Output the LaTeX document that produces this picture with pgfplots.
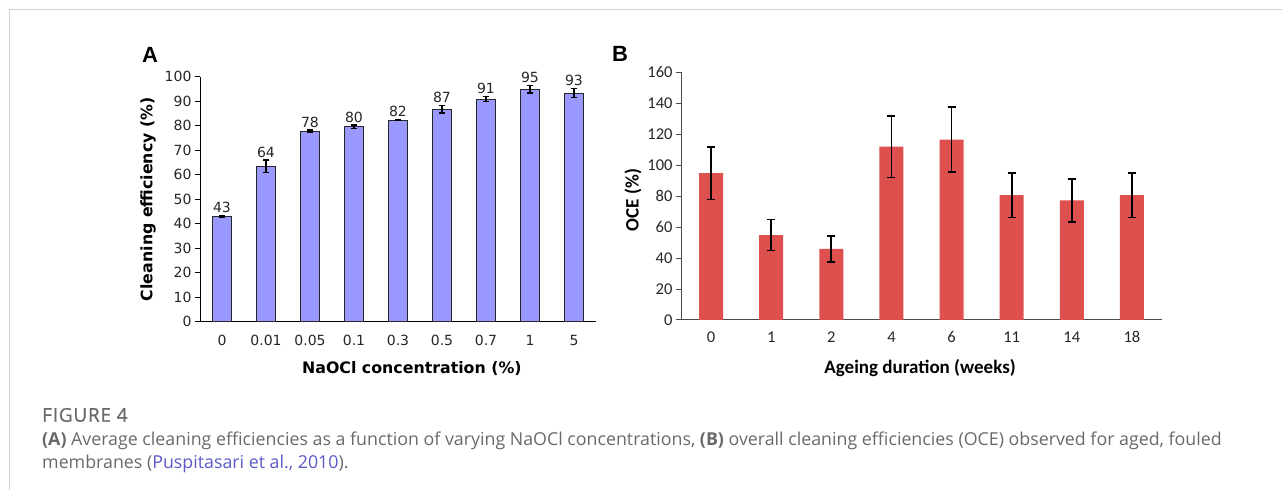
\documentclass[border=0pt]{standalone}
\usepackage{pgfplots}
\pgfplotsset{compat=1.18}
\usepackage{pgfplotstable}
\usepackage{fontspec}
\setmainfont{Open Sans}
\newfontfamily\verd{DejaVu Sans}
\newfontfamily\calib{Carlito}
\newfontfamily\arialf{Liberation Sans}
\newfontfamily\capf{Open Sans}
\newfontfamily\capfig[FakeBold=0.8,LetterSpace=4]{Open Sans}
\definecolor{barA}{RGB}{153,153,255}
\definecolor{barB}{RGB}{222,80,78}
\definecolor{capgray}{RGB}{105,105,105}
\definecolor{linkc}{RGB}{90,90,200}

\pgfplotstableread{
x y e lab
0 43.0 0.3 43
1 63.5 2.5 64
2 77.8 0.4 78
3 79.6 0.7 80
4 82.3 0.3 82
5 86.7 1.5 87
6 90.8 1.0 91
7 94.9 1.5 95
8 93.3 1.8 93
}\tabA

\pgfplotstableread{
x y e
0 94.8 17
1 54.9 10
2 45.9 8.5
3 112.0 20
4 116.5 21
5 80.7 14.5
6 77.3 14
7 80.7 14.5
}\tabB

\begin{document}
\begin{tikzpicture}[x=1pt,y=1pt]
\path[use as bounding box] (0,0) rectangle (1282,490);
\draw[black!18, line width=1.5pt] (9.5,0) -- (9.5,480.5) -- (1282,480.5);

% Panel labels
\node[anchor=base west, inner sep=0] at (142,427) {\arialf\bfseries\fontsize{22}{22}\selectfont A};
\node[anchor=base west, inner sep=0] at (612,428) {\arialf\bfseries\fontsize{22}{22}\selectfont B};

% Panel A
\begin{axis}[
  at={(200pt,168.3pt)}, anchor=south west,
  scale only axis, width=396pt, height=245pt,
  xmin=-0.5, xmax=8.5, ymin=0, ymax=100,
  axis x line*=bottom, axis y line*=left,
  axis line style={black, line width=0.9pt},
  tick align=outside,
  xtick={0,...,8},
  xticklabels={0,0.01,0.05,0.1,0.3,0.5,0.7,1,5},
  xtick style={draw=none},
  minor xtick={-0.5,0.5,...,8.5},
  minor tick length=5pt,
  major tick length=5pt,
  every tick/.style={black, line width=0.9pt},
  ytick={0,10,...,100},
  /pgf/number format/assume math mode=true,
  ticklabel style={font=\verd\fontsize{14}{14}\selectfont, text=black!85},
  xticklabel style={yshift=-5pt},
  xlabel={NaOCl concentration (\%)},
  ylabel={Cleaning efficiency (\%)},
  label style={font=\verd\bfseries\fontsize{15.8}{15.8}\selectfont},
  xlabel style={at={(axis description cs:0.535,-0.193)}, anchor=center},
  ylabel style={at={(axis description cs:-0.131,0.5)}, anchor=center},
  clip=false,
]
\addplot[ybar, bar width=19pt, fill=barA, draw=black!85, line width=0.8pt,
  error bars/.cd, y dir=both, y explicit,
  error bar style={black, line width=1.3pt},
  error mark options={rotate=90, mark size=3pt, line width=1.3pt, black}]
  table[x=x, y=y, y error=e] {\tabA};
\addplot[draw=none, mark=none, nodes near coords, point meta=explicit symbolic,
  every node near coord/.style={font=\verd\fontsize{14}{14}\selectfont, text=black!85, anchor=south, inner sep=2.5pt}]
  table[x=x, y expr=\thisrow{y}+\thisrow{e}, meta=lab] {\tabA};
\end{axis}

% Panel B
\begin{axis}[
  at={(681pt,170pt)}, anchor=south west,
  scale only axis, width=481pt, height=247.7pt,
  xmin=-0.5, xmax=7.5, ymin=0, ymax=160,
  axis x line*=bottom, axis y line*=left,
  axis line style={black!70, line width=1pt},
  tick align=outside,
  xtick={0,...,7},
  xticklabels={0,1,2,4,6,11,14,18},
  xtick style={draw=none},
  minor xtick={-0.5,0.5,...,7.5},
  minor tick length=5pt,
  major tick length=5pt,
  every tick/.style={black!70, line width=1pt},
  ytick={0,20,...,160},
  /pgf/number format/assume math mode=true,
  ticklabel style={font=\calib\fontsize{16.5}{16.5}\selectfont, text=black!85},
  xticklabel style={yshift=-3pt},
  xlabel={Ageing duration (weeks)},
  ylabel={OCE (\%)},
  label style={font=\calib\bfseries\fontsize{19}{19}\selectfont},
  xlabel style={at={(axis description cs:0.497,-0.194)}, anchor=center},
  ylabel style={at={(axis description cs:-0.1,0.484)}, anchor=center},
  clip=false,
]
\addplot[ybar, bar width=24pt, fill=barB, draw=none,
  error bars/.cd, y dir=both, y explicit,
  error bar style={black, line width=1.8pt},
  error mark options={rotate=90, mark size=4pt, line width=1.8pt, black}]
  table[x=x, y=y, y error=e] {\tabB};
\end{axis}

% Caption
\node[anchor=base west, inner sep=0, text=capgray] at (42,68.3) {\capfig\fontsize{19}{19}\selectfont FIGURE 4};
\node[anchor=base west, inner sep=0, text=capgray] at (42,45) {\capf\fontsize{17.8}{17.8}\selectfont \textbf{(A)} Average cleaning efficiencies as a function of varying NaOCl concentrations, \textbf{(B)} overall cleaning efficiencies (OCE) observed for aged, fouled};
\node[anchor=base west, inner sep=0, text=capgray] at (42,21.7) {\capf\fontsize{17.8}{17.8}\selectfont membranes (\textcolor{linkc}{Puspitasari et al., 2010}).};
\end{tikzpicture}
\end{document}
